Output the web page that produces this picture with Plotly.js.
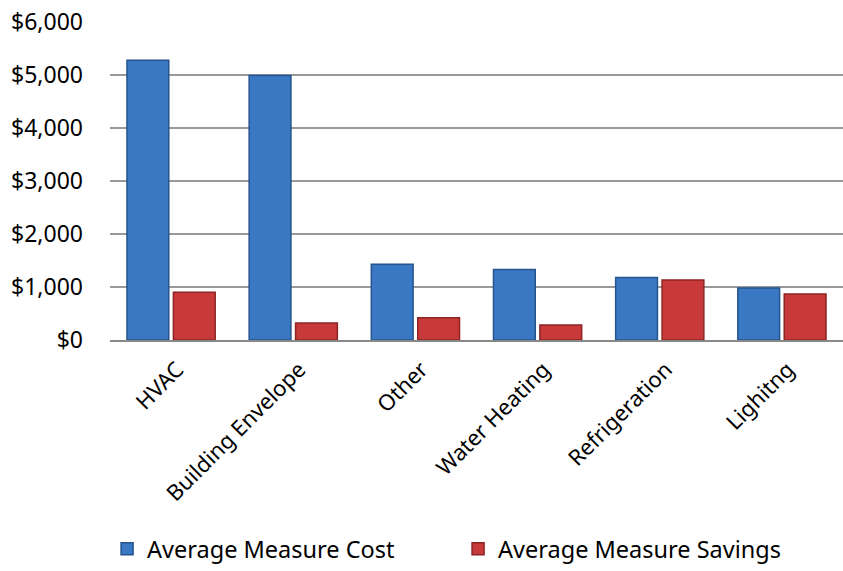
<!DOCTYPE html>
<html>
<head>
<meta charset="utf-8">
<script src="https://cdn.plot.ly/plotly-3.0.1.min.js"></script>
<style>html,body{margin:0;padding:0;background:#fff;}#chart{width:843px;height:571px;}</style>
</head>
<body>
<div id="chart"></div>
<script>
const categories = ["HVAC", "Building Envelope", "Other", "Water Heating", "Refrigeration", "Lighitng"];
const avgCost = [5280, 4990, 1430, 1330, 1180, 980];
const avgSavings = [900, 320, 420, 285, 1130, 870];
const yTicks = [0, 1000, 2000, 3000, 4000, 5000, 6000];

const fontFam = "Noto Sans, Open Sans, sans-serif";

const traces = [
  {
    type: "bar", name: "Average Measure Cost", x: categories, y: avgCost,
    marker: {color: "#3B78C3", line: {color: "#25548F", width: 1.5}},
    hoverinfo: "none"
  },
  {
    type: "bar", name: "Average Measure Savings", x: categories, y: avgSavings,
    marker: {color: "#C83A3A", line: {color: "#8E2525", width: 1.5}},
    hoverinfo: "none"
  }
];

const layout = {
  width: 843, height: 571,
  margin: {l: 110, r: 0, t: 22, b: 231, pad: 0},
  paper_bgcolor: "#ffffff", plot_bgcolor: "#ffffff",
  barmode: "group", bargap: 0.24, bargroupgap: 0.1,
  font: {family: fontFam, color: "#000000"},
  showlegend: true,
  legend: {
    orientation: "h", x: -0.004, xanchor: "left", y: -0.7264, yanchor: "bottom",
    font: {size: 23.5, family: fontFam}, itemwidth: 30, traceorder: "normal",
    entrywidth: 306, entrywidthmode: "pixels"
  },
  xaxis: {
    type: "category", tickangle: -45, showgrid: false, automargin: false,
    showline: true, linecolor: "#888888", linewidth: 2,
    ticks: "", tickfont: {size: 22, family: fontFam},
    ticklabelstandoff: 6, ticklabelshift: 6
  },
  yaxis: {
    range: [0, 6000], tickvals: yTicks, tickformat: "$,", automargin: false,
    showgrid: true, gridcolor: "#999999", gridwidth: 2,
    zeroline: false, showline: false, ticks: "",
    tickfont: {size: 23, family: fontFam}, ticklabelstandoff: 26
  }
};

Plotly.newPlot("chart", traces, layout, {displayModeBar: false, staticPlot: true});
</script>
</body>
</html>
